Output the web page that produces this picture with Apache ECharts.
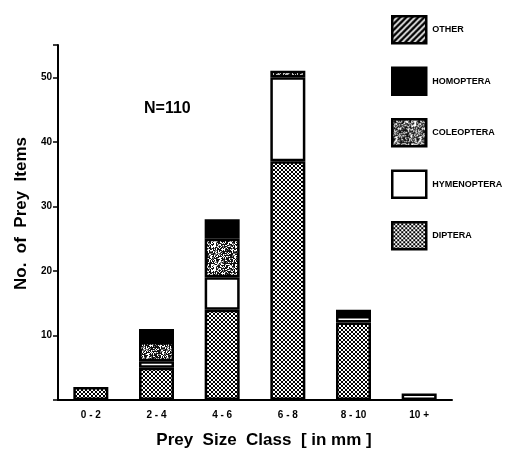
<!DOCTYPE html>
<html>
<head>
<meta charset="utf-8">
<script src="https://cdn.jsdelivr.net/npm/echarts@6/dist/echarts.min.js"></script>
<style>html,body{margin:0;padding:0;background:#fff}#c{width:506px;height:454px}</style>
</head>
<body>
<div id="c"></div>
<script>
// ---- data ----
var categories = ['0 - 2', '2 - 4', '4 - 6', '6 - 8', '8 - 10', '10 +'];
var diptera     = [2, 5, 14, 37, 12, 0];
var hymenoptera = [0, 1, 5, 13, 1, 1];
var coleoptera  = [0, 3, 6, 1, 0, 0];
var homoptera   = [0, 2, 3, 0, 1, 0];
var other       = [0, 0, 0, 0, 0, 0];
var yTicks = [10, 20, 30, 40, 50];

// ---- textures ----
function mk(w, h, draw) {
  var c = document.createElement('canvas'); c.width = w; c.height = h;
  var g = c.getContext('2d'); g.fillStyle = '#fff'; g.fillRect(0, 0, w, h); draw(g, w, h); return c;
}
var crossTex = mk(4, 4, function (g) {
  g.fillStyle = '#000';
  for (var y = 0; y < 4; y++) for (var x = 0; x < 4; x++) {
    if (x === y || x + y === 3) g.fillRect(x, y, 1, 1);
  }
});
var speckTex = mk(24, 24, function (g, w, h) {
  var s = 12345;
  for (var y = 0; y < h; y++) for (var x = 0; x < w; x++) {
    s = (s * 1103515245 + 12345) & 0x7fffffff;
    var v = (s >> 8) % 100;
    g.fillStyle = v < 50 ? '#111' : (v < 68 ? '#777' : '#fff');
    g.fillRect(x, y, 1, 1);
  }
});
var stripeTex = mk(6, 6, function (g) {
  g.fillStyle = '#000'; g.fillRect(0, 0, 6, 6);
  g.strokeStyle = '#fff'; g.lineWidth = 1.6;
  g.beginPath(); g.moveTo(0, 6); g.lineTo(6, 0); g.moveTo(-3, 3); g.lineTo(3, -3); g.moveTo(3, 9); g.lineTo(9, 3); g.stroke();
});

function nz(a) { return a.map(function (v) { return v === 0 ? null : v; }); }
function ser(name, data, fill) {
  return {
    name: name, type: 'bar', stack: 's', barWidth: 35, data: nz(data),
    itemStyle: { color: fill, borderColor: '#000', borderWidth: 2.5 },
    emphasis: { disabled: true }
  };
}
var F = 'Liberation Sans, Arial, sans-serif';
var chart = echarts.init(document.getElementById('c'), null, { renderer: 'canvas' });
chart.setOption({
  animation: false,
  title: { text: 'N=110', left: 139, top: 96, textStyle: { fontFamily: F, fontWeight: 'bold', fontSize: 16, color: '#000' } },
  legend: {
    orient: 'vertical', left: 386, top: 10, itemWidth: 34, itemHeight: 27, itemGap: 22, icon: 'rect',
    data: ['OTHER', 'HOMOPTERA', 'COLEOPTERA', 'HYMENOPTERA', 'DIPTERA'],
    itemStyle: { borderColor: '#000', borderWidth: 2.5 },
    textStyle: { fontFamily: F, fontWeight: 'bold', fontSize: 9, color: '#000', padding: [0, 0, 0, 1] },
    selectedMode: false
  },
  grid: { left: 58, right: 54, top: 45, bottom: 53 },
  xAxis: {
    type: 'category', data: categories,
    axisLine: { lineStyle: { color: '#000', width: 2 } },
    axisTick: { show: false },
    axisLabel: { margin: 10, fontFamily: F, fontWeight: 'bold', fontSize: 10, color: '#000' },
    name: 'Prey  Size  Class  [ in mm ]', nameLocation: 'middle', nameGap: 32,
    nameTextStyle: { fontFamily: F, fontWeight: 'bold', fontSize: 17, color: '#000', padding: [0, 0, 0, 18] }
  },
  yAxis: {
    type: 'value', min: 0, max: 55, interval: 10,
    splitLine: { show: false },
    axisLine: { show: true, lineStyle: { color: '#000', width: 2 } },
    axisTick: { show: true, length: 5, lineStyle: { color: '#000', width: 1.5 } },
    axisLabel: {
      margin: 6, fontFamily: F, fontWeight: 'bold', fontSize: 10, color: '#000',
      formatter: function (v) { return yTicks.indexOf(v) >= 0 ? String(v) : ''; }
    },
    name: 'No.  of  Prey  Items', nameLocation: 'middle', nameGap: 28,
    nameTextStyle: { fontFamily: F, fontWeight: 'bold', fontSize: 17, color: '#000', padding: [0, 0, 0, 18] }
  },
  series: [
    ser('DIPTERA', diptera, { image: crossTex, repeat: 'repeat' }),
    ser('HYMENOPTERA', hymenoptera, '#fff'),
    ser('COLEOPTERA', coleoptera, { image: speckTex, repeat: 'repeat' }),
    ser('HOMOPTERA', homoptera, '#000'),
    ser('OTHER', other, { image: stripeTex, repeat: 'repeat' })
  ]
});
</script>
</body>
</html>
